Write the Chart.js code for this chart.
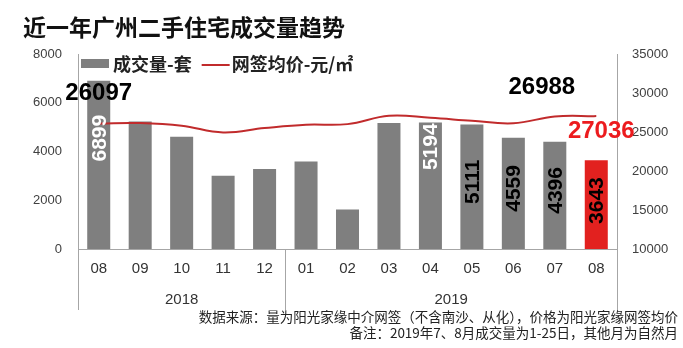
<!DOCTYPE html>
<html>
<head>
<meta charset="utf-8">
<script src="https://cdn.jsdelivr.net/npm/chart.js@4/dist/chart.umd.min.js"></script>
<style>
  html, body { margin: 0; padding: 0; background: #fff; }
  #wrap { width: 683px; height: 348px; }
</style>
</head>
<body>
<div id="wrap"><canvas id="tradeChart" width="683" height="348"></canvas></div>
<script>
//categories
const months = ['08', '09', '10', '11', '12', '01', '02', '03', '04', '05', '06', '07', '08'];
const yearLabels = ['2018', '2019'];
const yearSpans = [5, 8];

//series values
const salesVolume = [6899, 5230, 4610, 3010, 3280, 3590, 1620, 5170, 5194, 5111, 4559, 4396, 3643];
const avgPrice = [26097, 26140, 25800, 24940, 25500, 25930, 26010, 27080, 26820, 26440, 26120, 26988, 27036];

//axis ticks
const volumeTicks = [0, 8000, 2000];
const priceTicks = [10000, 35000, 5000];

const GRAY = '#7f7f7f';
const RED_BAR = '#e2211f';
const RED_LINE = '#c12b2c';
const AXIS = '#a6a6a6';
const NUM_FONT = '"Liberation Sans", Arial, sans-serif';
const CJK_FONT = '"Noto Sans CJK SC", sans-serif';

const barColors = salesVolume.map((v, i) => i === salesVolume.length - 1 ? RED_BAR : GRAY);

//which bars / points get a value printed and where
const barLabelStyle = {
    0:  { color: '#fff', from: 'top', gap: 34 },
    8:  { color: '#fff', from: 'top', gap: 1 },
    9:  { color: '#000', from: 'center', shift: -5 },
    10: { color: '#000', from: 'center', shift: -5 },
    11: { color: '#000', from: 'center', shift: -5 },
    12: { color: '#000', from: 'center', shift: -4 }
};
const lineLabelStyle = {
    0:  { color: '#000', dx: 0, dy: -30 },
    11: { color: '#000', dx: -13, dy: -29 },
    12: { color: '#ec1b1e', dx: 5, dy: 15 }
};

//bar values written vertically, price values above the line
const valueLabels = {
    id: 'valueLabels',
    afterDatasetsDraw(chart) {
        const ctx = chart.ctx;
        ctx.save();
        ctx.font = 'bold 21px ' + NUM_FONT;
        ctx.textAlign = 'center';
        ctx.textBaseline = 'middle';
        chart.getDatasetMeta(0).data.forEach((bar, i) => {
            const st = barLabelStyle[i];
            if (!st) return;
            const txt = String(salesVolume[i]);
            const len = ctx.measureText(txt).width;
            let cy;
            if (st.from === 'top') cy = bar.y + st.gap + len / 2;
            else cy = (bar.y + bar.base) / 2 + st.shift;
            ctx.save();
            ctx.translate(bar.x, cy);
            ctx.rotate(-Math.PI / 2);
            ctx.fillStyle = st.color;
            ctx.fillText(txt, 0, 1);
            ctx.restore();
        });
        ctx.font = 'bold 24px ' + NUM_FONT;
        chart.getDatasetMeta(1).data.forEach((pt, i) => {
            const st = lineLabelStyle[i];
            if (!st) return;
            ctx.fillStyle = st.color;
            ctx.fillText(String(avgPrice[i]), pt.x + st.dx, pt.y + st.dy);
        });
        ctx.restore();
    }
};

//legend sits inside the plot, top left
const innerLegend = {
    id: 'innerLegend',
    afterDraw(chart) {
        const ctx = chart.ctx;
        const a = chart.chartArea;
        const y = a.top + 10;
        ctx.save();
        ctx.font = 'bold 18px ' + CJK_FONT;
        ctx.textBaseline = 'middle';
        ctx.fillStyle = GRAY;
        ctx.fillRect(a.left + 3, y - 5, 28, 9);
        let x = a.left + 35;
        ctx.fillStyle = '#222';
        const t1 = '成交量-套';
        ctx.fillText(t1, x, y);
        x += ctx.measureText(t1).width + 10;
        ctx.strokeStyle = RED_LINE;
        ctx.lineWidth = 2;
        ctx.beginPath();
        ctx.moveTo(x, y + 1);
        ctx.lineTo(x + 28, y + 1);
        ctx.stroke();
        ctx.fillText('网签均价-元/㎡', x + 30, y);
        ctx.restore();
    }
};

//year row under the months, with separators between the years
const yearRow = {
    id: 'yearRow',
    afterDraw(chart) {
        const ctx = chart.ctx;
        const xs = chart.scales.x;
        const top = chart.chartArea.bottom;
        ctx.save();
        ctx.strokeStyle = AXIS;
        ctx.lineWidth = 1;
        ctx.font = '15px ' + NUM_FONT;
        ctx.fillStyle = '#333';
        ctx.textAlign = 'center';
        ctx.textBaseline = 'middle';
        const edge = (i) => {
            if (i <= 0) return xs.left;
            if (i >= months.length) return xs.right;
            return (xs.getPixelForValue(i - 1) + xs.getPixelForValue(i)) / 2;
        };
        let start = 0;
        yearLabels.forEach((yr, k) => {
            const end = start + yearSpans[k];
            const x0 = edge(start), x1 = edge(end);
            [x0, x1].forEach(px => {
                const lx = Math.round(px) + 0.5;
                ctx.beginPath();
                ctx.moveTo(lx, top);
                ctx.lineTo(lx, top + 61);
                ctx.stroke();
            });
            ctx.fillText(yr, (x0 + x1) / 2, top + 51);
            start = end;
        });
        ctx.restore();
    }
};

//plain numbers on the value axes, no thousands separator
const plainTick = v => String(v);

var tradeConfig = {
    type: 'bar',
    data: {
        labels: months,
        datasets: [{
            label: '成交量-套',
            data: salesVolume,
            backgroundColor: barColors,
            yAxisID: 'yVol',
            barPercentage: 0.555,
            categoryPercentage: 1,
            order: 1
        },
        {
            type: 'line',
            label: '网签均价-元/㎡',
            data: avgPrice,
            borderColor: RED_LINE,
            borderWidth: 2,
            pointRadius: 0,
            tension: 0.4,
            fill: false,
            yAxisID: 'yPrice',
            order: 0
        }]
    },
    options: {
        responsive: false,
        animation: false,
        layout: {
            padding: { left: 23, right: 5, top: 0, bottom: 0 }
        },
        scales: {
            x: {
                grid: { display: false, drawTicks: false },
                border: { display: true, color: AXIS },
                ticks: {
                    color: '#333',
                    font: { family: NUM_FONT, size: 15 },
                    padding: 11,
                    maxRotation: 0,
                    autoSkip: false
                },
                afterFit: s => { s.height = 60; }
            },
            yVol: {
                position: 'left',
                min: volumeTicks[0],
                max: volumeTicks[1],
                grid: { display: false, drawTicks: false },
                border: { display: true, color: AXIS },
                ticks: {
                    stepSize: volumeTicks[2],
                    color: '#404040',
                    font: { family: NUM_FONT, size: 13 },
                    padding: 16,
                    callback: plainTick
                },
                afterFit: s => { s.width = 55; }
            },
            yPrice: {
                position: 'right',
                min: priceTicks[0],
                max: priceTicks[1],
                grid: { display: false, drawTicks: false },
                border: { display: true, color: AXIS },
                ticks: {
                    stepSize: priceTicks[2],
                    color: '#404040',
                    font: { family: NUM_FONT, size: 13 },
                    padding: 15,
                    callback: plainTick
                },
                afterFit: s => { s.width = 61; }
            }
        },
        plugins: {
            legend: { display: false },
            tooltip: { enabled: false },
            title: {
                display: true,
                text: '近一年广州二手住宅成交量趋势',
                align: 'start',
                color: '#111',
                font: { family: CJK_FONT, size: 23, weight: 'bold', lineHeight: 1.2 },
                padding: { top: 13, bottom: 13.4 }
            },
            subtitle: {
                display: true,
                position: 'bottom',
                align: 'end',
                text: ['数据来源：量为阳光家缘中介网签（不含南沙、从化），价格为阳光家缘网签均价',
                       '备注：2019年7、8月成交量为1-25日，其他月为自然月'],
                color: '#222',
                font: { family: CJK_FONT, size: 13.5, weight: 'normal', lineHeight: 16 / 13.5 },
                padding: { top: 0, bottom: 7 }
            }
        }
    },
    plugins: [valueLabels, innerLegend, yearRow]
};

window.onload = function() {
    var tradeCtx = document.getElementById('tradeChart').getContext('2d');
    window.tradeChart = new Chart(tradeCtx, tradeConfig);
};
</script>
</body>
</html>
